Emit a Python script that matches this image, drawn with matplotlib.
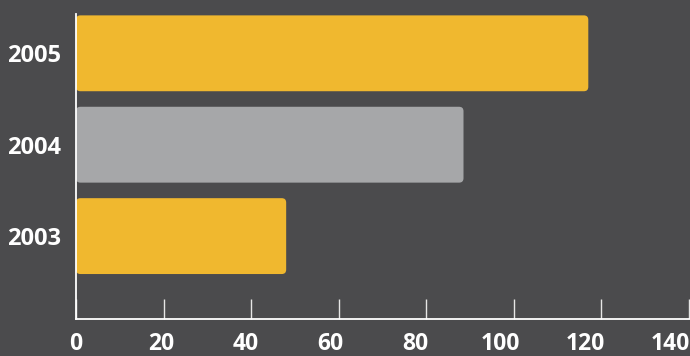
import matplotlib
matplotlib.use("Agg")
import matplotlib.pyplot as plt
from matplotlib.patches import FancyBboxPatch
from matplotlib.transforms import ScaledTranslation

years = ["2003", "2004", "2005"]
values = [48, 88.5, 117]
bar_colors = ["#F0B82F", "#A6A7A9", "#F0B82F"]
xticks = [0, 20, 40, 60, 80, 100, 120, 140]

BG = "#4B4B4D"
plt.rcParams['font.family'] = ['Open Sans', 'DejaVu Sans']

W, H = 690, 356
fig = plt.figure(figsize=(W / 100, H / 100), dpi=100, facecolor=BG)
left, right, bottom, top = 76, 689, 319, 14
ax = fig.add_axes([left / W, (H - bottom) / H, (right - left) / W, (bottom - top) / H])
ax.set_facecolor(BG)

ypos = list(range(len(years)))
bars = ax.barh(ypos, values, height=0.83, color=bar_colors, zorder=2)
ax.set_xlim(0, 140)
ax.set_ylim(-0.907, 2.43)

# rounded corners: replace each bar with a rounded patch of the same extent
px_per_x = (right - left) / 140.0
px_per_y = (bottom - top) / (2.43 + 0.907)
aspect = px_per_x / px_per_y
for b, c in zip(bars, bar_colors):
    b.set_visible(False)
    p = FancyBboxPatch((b.get_x(), b.get_y()), b.get_width(), b.get_height(),
                       boxstyle="round,pad=0,rounding_size=1.0",
                       mutation_aspect=aspect, facecolor=c, edgecolor="none", zorder=2)
    ax.add_patch(p)

ax.set_yticks(ypos)
ax.set_yticklabels(years, fontsize=17, fontweight='bold', color='white')
ax.tick_params(axis='y', length=0, pad=11)

ax.set_xticks(xticks)
ax.set_xticklabels([])
ax.tick_params(axis='x', direction='in', length=14.4, width=1, color='#E6E6E6')
# tick labels drawn slightly shifted left (as in the reference layout)
for t in xticks:
    off = ScaledTranslation(-0.135 * t / 100.0, -30.5 / 100.0, fig.dpi_scale_trans)
    ax.text(t, 0, str(t), transform=ax.get_xaxis_transform() + off,
            ha='center', va='baseline', fontsize=16.5, fontweight='bold', color='white',
            clip_on=False)

for s in ['top', 'right']:
    ax.spines[s].set_visible(False)
for s in ['left', 'bottom']:
    ax.spines[s].set_color('white')
    ax.spines[s].set_linewidth(1.3)

fig.savefig("out.png", dpi=100, facecolor=BG)
